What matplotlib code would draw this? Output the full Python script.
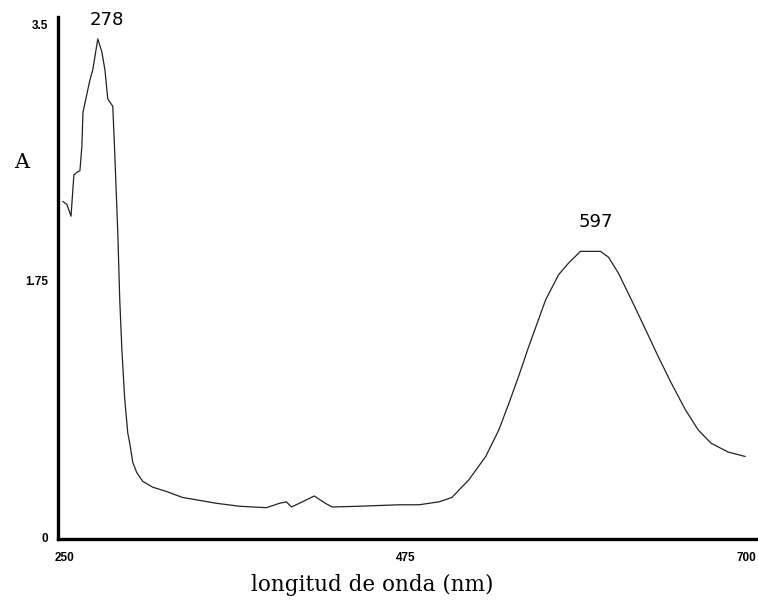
"""
Espectro UV-Vis: absorbancia vs longitud de onda.
"""
import matplotlib
matplotlib.use('Agg')
import matplotlib.pyplot as plt

wavelength_nm = [
    248.7, 251.3, 254.0, 255.9, 257.9, 259.9, 261.2, 261.9, 263.8, 266.5,
    268.4, 271.7, 274.4, 276.4, 278.3, 281.6, 282.9, 284.9, 286.2, 287.6,
    289.5, 291.5, 292.8, 294.8, 297.4, 301.4, 308.0, 317.2, 327.7, 338.9,
    350.1, 365.3, 383.1, 391.7, 396.3, 399.6, 404.8, 414.7, 422.0, 426.6,
    444.4, 470.7, 483.9, 497.1, 505.6, 516.8, 528.0, 536.6, 543.2, 549.8,
    556.4, 567.6, 576.1, 582.7, 590.6, 597.0, 603.8, 609.1, 615.7, 624.2,
    633.4, 642.0, 650.6, 659.8, 668.4, 676.9, 688.1, 699.3,
]
absorbance = [
    2.29, 2.27, 2.19, 2.47, 2.49, 2.50, 2.67, 2.90, 2.99, 3.12,
    3.19, 3.40, 3.31, 3.19, 2.99, 2.94, 2.62, 2.08, 1.62, 1.28,
    0.94, 0.71, 0.64, 0.51, 0.44, 0.38, 0.34, 0.31, 0.27, 0.25,
    0.23, 0.21, 0.20, 0.23, 0.24, 0.205, 0.23, 0.28, 0.23, 0.205,
    0.21, 0.22, 0.22, 0.24, 0.27, 0.39, 0.55, 0.73, 0.91, 1.10,
    1.30, 1.62, 1.79, 1.87, 1.95, 1.95, 1.95, 1.91, 1.80, 1.62,
    1.42, 1.23, 1.05, 0.87, 0.73, 0.64, 0.58, 0.55,
]

x_ticks = [250, 475, 700]
y_ticks = [0, 1.75, 3.5]
y_tick_labels = ['0', '1.75', '3.5']

peak_labels = ['278', '597']
peak_pos = [(277.7, 3.53), (600.5, 2.15)]

fig = plt.figure(figsize=(7.58, 6.05), dpi=100)
ax = fig.add_axes([0.0765, 0.109, 0.921, 0.863])

ax.plot(wavelength_nm, absorbance, color='#222222', lw=0.9)

ax.set_xlim(245.4, 706.6)
ax.set_ylim(-0.014, 3.55)

for s in ('top', 'right'):
    ax.spines[s].set_visible(False)
for s in ('left', 'bottom'):
    ax.spines[s].set_linewidth(2.4)
    ax.spines[s].set_color('black')

tick_font = dict(family=['Liberation Sans Narrow', 'Liberation Sans'],
                 weight='bold', size=8.5)
ax.set_xticks(x_ticks)
ax.set_xticklabels([str(t) for t in x_ticks], **tick_font)
ax.set_yticks(y_ticks)
ax.set_yticklabels(y_tick_labels, **tick_font)
ax.tick_params(axis='both', length=0)
ax.tick_params(axis='x', pad=9)
ax.tick_params(axis='y', pad=7)

fig.text(0.491, 0.033, 'longitud de onda (nm)', family='DejaVu Serif',
         fontsize=15.5, ha='center', va='center')
fig.text(0.029, 0.732, 'A', family='DejaVu Serif', fontsize=15,
         ha='center', va='center')

for lab, (px, py) in zip(peak_labels, peak_pos):
    ax.text(px, py, lab, family='DejaVu Sans', fontsize=13,
            ha='center', va='center', clip_on=False)

fig.savefig('out.png', dpi=100)
